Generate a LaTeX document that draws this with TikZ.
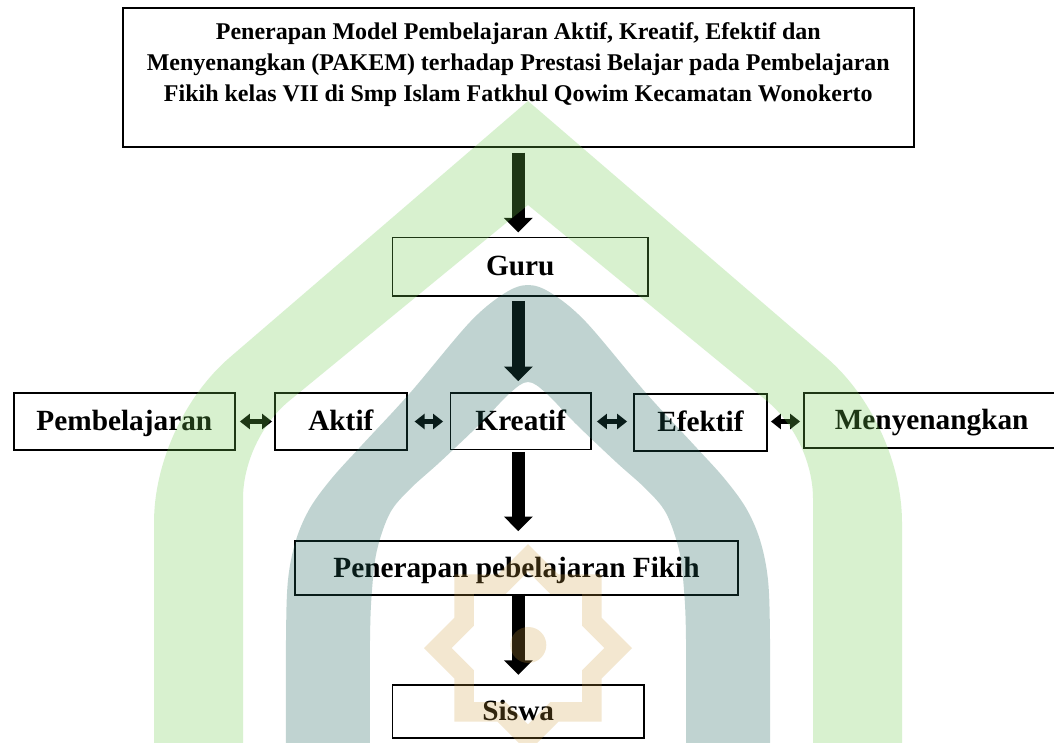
\documentclass[tikz,border=0pt]{standalone}
\usepackage{fontspec}
\setmainfont{Liberation Serif}
\usetikzlibrary{arrows.meta,calc}
\definecolor{wmgreen}{RGB}{111,204,81}
\definecolor{wmteal}{RGB}{30,100,90}
\definecolor{wmgold}{RGB}{208,158,62}
\begin{document}
\begin{tikzpicture}[x=1pt,y=-1pt,
  box/.style={draw=black, line width=1.8pt, fill=white, inner sep=0pt,
    font=\fontsize{29.3}{35}\selectfont\bfseries, text height=22pt, text depth=4pt},
  titlebox/.style={draw=black, line width=1.8pt, fill=white, inner sep=0pt},
  bigarrow/.style={line width=13pt, draw=black, -{Triangle[width=28pt,length=14.5pt]}},
  dblarrow/.style={line width=4.5pt, draw=black,
    {Triangle[width=15pt,length=10pt]}-{Triangle[width=15pt,length=10pt]}},
  wm/.style={even odd rule, draw=none}
]
\useasboundingbox (0,0) rectangle (1054,742);
\clip (0,0) rectangle (1054,742);
\fill[white] (0,0) rectangle (1054,742);

% title
\node[titlebox] (title) at (518.3,77.5) {\begin{minipage}[c][138.4pt][t]{790.8pt}\centering
  \fontsize{24}{31.2}\selectfont\bfseries
  \rule{0pt}{30.9pt}Penerapan Model Pembelajaran Aktif, Kreatif, Efektif dan\\
  Menyenangkan (PAKEM) terhadap Prestasi Belajar pada Pembelajaran\\
  Fikih kelas VII di Smp Islam Fatkhul Qowim Kecamatan Wonokerto\end{minipage}};

% boxes
\node[box, minimum width=255.5pt, minimum height=58.5pt] (guru) at (520.25,266.75) {Guru};
\node[box, minimum width=221.3pt, minimum height=57pt] (pemb) at (124.35,421.5) {Pembelajaran};
\node[box, minimum width=131.7pt, minimum height=56.7pt] (aktif) at (340.85,421.35) {Aktif};
\node[box, minimum width=140.5pt, minimum height=56.5pt] (kreatif) at (520.75,421.25) {Kreatif};
\node[box, minimum width=133pt, minimum height=56.7pt] (efektif) at (700.5,422.3) {Efektif};
\node[box, minimum width=254.7pt, minimum height=55pt] (menyen) at (931.65,420.8) {Menyenangkan};
\node[box, minimum width=443pt, minimum height=54pt] (terap) at (516.5,568) {Penerapan pebelajaran Fikih};
\node[box, minimum width=251.5pt, minimum height=53pt] (siswa) at (518.25,711.5) {Siswa};

% vertical block arrows
\draw[bigarrow] ([yshift=-5pt]title.south) -- ([yshift=4.2pt]title.south |- guru.north);
\draw[bigarrow] ([yshift=-4pt]title.south |- guru.south) -- ([yshift=11pt]title.south |- kreatif.north);
\draw[bigarrow] ([yshift=-1.5pt]title.south |- kreatif.south) -- ([yshift=9pt]title.south |- terap.north);
\draw[bigarrow] ([yshift=2pt]title.south |- terap.south) -- ([yshift=9.3pt]title.south |- siswa.north);

% horizontal double arrows
\coordinate (rowy) at (0,421.5);
\draw[dblarrow] ([xshift=4pt]pemb.east |- rowy) -- ([xshift=-2pt]aktif.west |- rowy);
\draw[dblarrow] ([xshift=7pt]aktif.east |- rowy) -- ([xshift=-6.5pt]kreatif.west |- rowy);
\draw[dblarrow] ([xshift=5pt]kreatif.east |- rowy) -- ([xshift=-6pt]efektif.west |- rowy);
\draw[dblarrow] ([xshift=3pt]efektif.east |- rowy) -- ([xshift=-3.3pt]menyen.west |- rowy);

% watermark (drawn over, translucent)
\fill[wm, wmgreen, fill opacity=0.27]
  (154,760) -- (154,522.6)
  .. controls ($(154,522.6)!0.6!(154,422.6)$) and ($(229.8,357.4)!0.6!(154,422.6)$) .. (229.8,357.4)
  -- (528,101) -- (826.2,357.4)
  .. controls ($(826.2,357.4)!0.6!(902,422.6)$) and ($(902,522.6)!0.6!(902,422.6)$) .. (902,522.6)
  -- (902,760) -- cycle
  (243,760) -- (243,498.7)
  .. controls ($(243,498.7)!0.6!(243,438.7)$) and ($(289.4,400.7)!0.6!(243,438.7)$) .. (289.4,400.7)
  -- (528,205) -- (766.6,400.7)
  .. controls ($(766.6,400.7)!0.6!(813,438.7)$) and ($(813,498.7)!0.6!(813,438.7)$) .. (813,498.7)
  -- (813,760) -- cycle;
\fill[wm, wmteal, fill opacity=0.28]
  plot[smooth, tension=0.55] coordinates {(286,760) (286,640) (288,580) (296,540) (310,508)
    (332,478) (362,445) (410,393) (470,322) (505,293) (528,285) (551,293) (586,322)
    (646,393) (694,445) (724,478) (746,508) (760,540) (768,580) (770,640) (770,760)} -- cycle
  plot[smooth, tension=0.55] coordinates {(370,760) (370,640) (372,590) (377,550) (390,513)
    (410,489) (440,462) (480,424) (510,393) (528,382) (546,393) (576,424) (616,462)
    (646,489) (666,513) (679,550) (684,590) (686,640) (686,760)} -- cycle;
\begin{scope}[shift={(528,648)}]
\fill[wm, wmgold, fill opacity=0.24]
  plot[samples at={0,...,15}] ({\x*22.5+90}:{ifthenelse(mod(\x,2)==0,104,79.6)}) -- cycle
  plot[samples at={0,...,15}] ({\x*22.5+90}:{ifthenelse(mod(\x,2)==0,76.4,58.5)}) -- cycle;
\fill[wmgold, fill opacity=0.24] (0.3,-3) circle[radius=18];
\end{scope}
\end{tikzpicture}
\end{document}
